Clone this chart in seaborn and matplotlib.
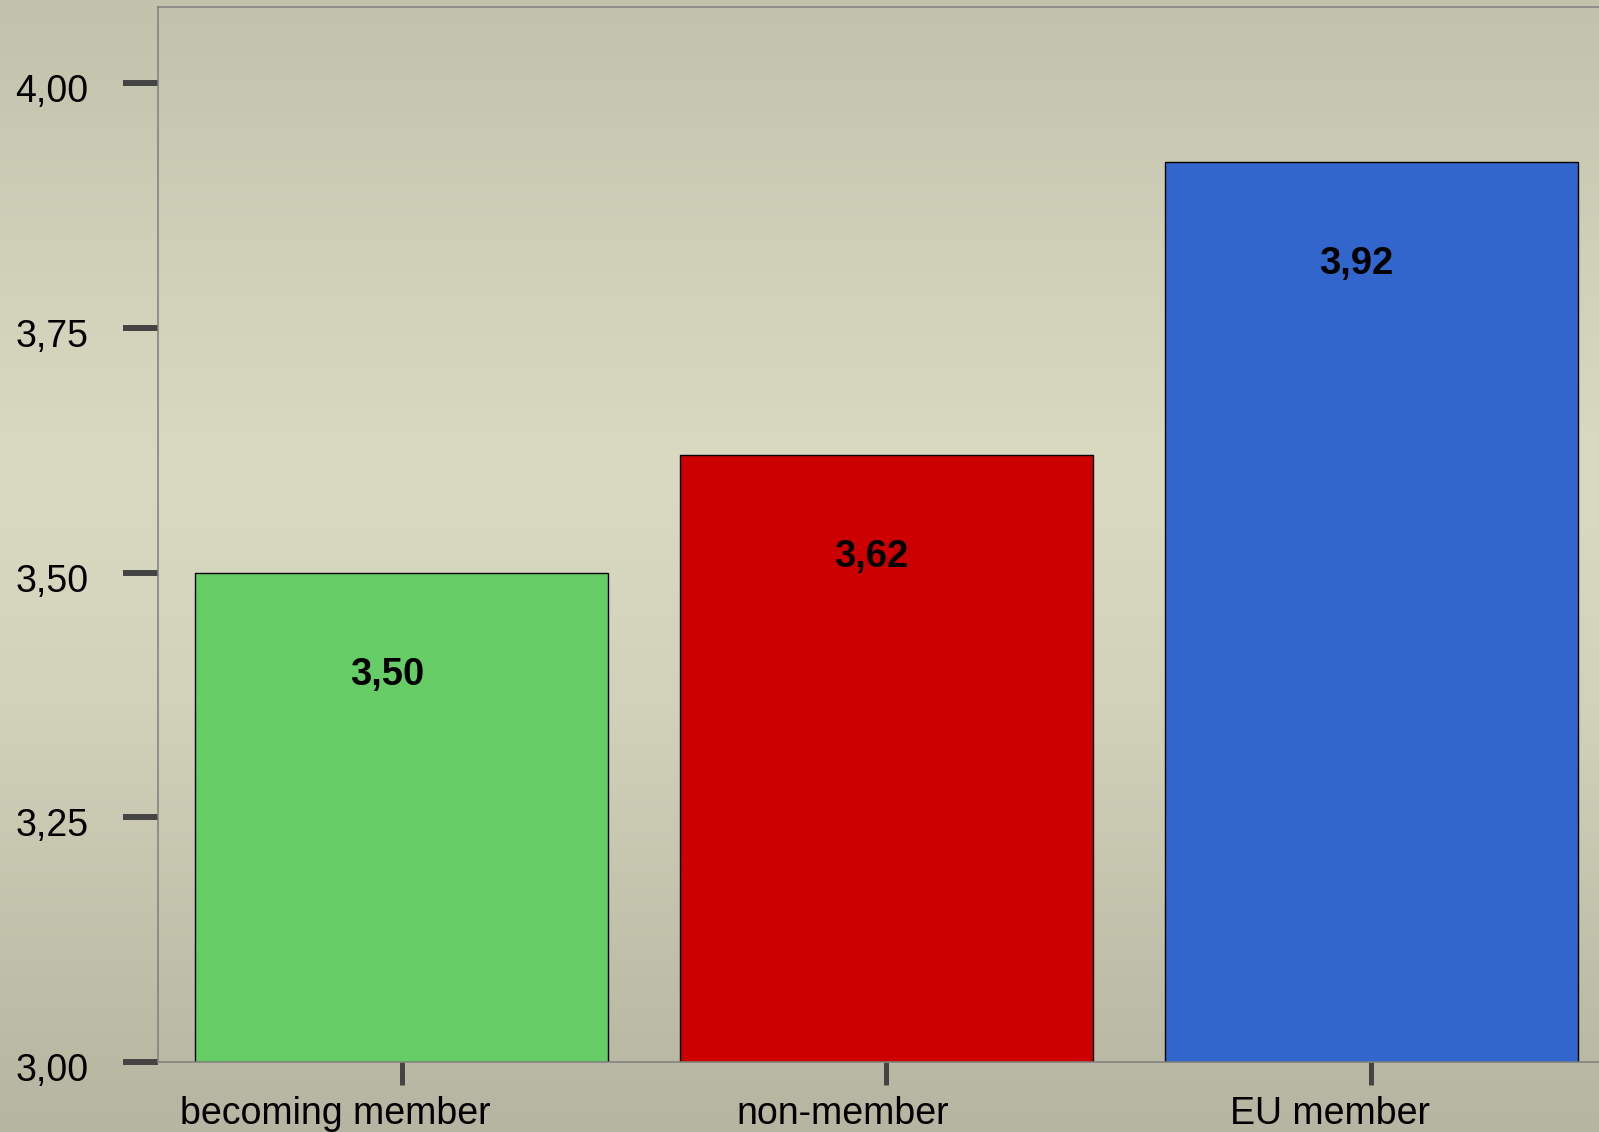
import matplotlib
matplotlib.use("Agg")
import matplotlib.pyplot as plt
import matplotlib.transforms as mtransforms
from matplotlib.colors import LinearSegmentedColormap
import numpy as np
import pandas as pd
import seaborn as sns

categories = ["becoming member", "non-member", "EU member"]
values = [3.50, 3.62, 3.92]
value_labels = ["3,50", "3,62", "3,92"]
bar_colors = ["#66CC66", "#CC0000", "#3366CC"]
y_ticks = [3.00, 3.25, 3.50, 3.75, 4.00]
y_tick_labels = ["3,00", "3,25", "3,50", "3,75", "4,00"]


def main() -> None:
    sns.set_style("white")
    plt.rcParams["font.family"] = ["Liberation Sans", "DejaVu Sans"]

    df = pd.DataFrame({"group": categories, "mean": values})

    fig = plt.figure(figsize=(15.99, 11.32), dpi=100)

    # vertical background gradient behind everything
    bg = fig.add_axes([0, 0, 1, 1], zorder=-10)
    grad = LinearSegmentedColormap.from_list(
        "bg",
        [(0.0, "#B6B5A1"), (0.15, "#C0BFA9"), (0.38, "#D2D1BA"),
         (0.58, "#DAD9C2"), (0.78, "#D0CFB8"), (1.0, "#C2C1AC")],
    )
    bg.imshow(np.linspace(0, 1, 256).reshape(-1, 1), aspect="auto", cmap=grad,
              origin="lower", extent=[0, 1, 0, 1])
    bg.set_axis_off()

    ax = fig.add_axes([158 / 1599, 70 / 1132, 1 - 158 / 1599, 1055 / 1132])
    ax.set_facecolor("none")

    sns.barplot(data=df, x="group", y="mean", hue="group", palette=bar_colors,
                legend=False, width=0.852, edgecolor="black", linewidth=1.0,
                saturation=1, ax=ax)

    ax.set_ylim(3.0, 4.078)
    ax.set_xlim(-0.503, 2.47)
    ax.set_yticks(y_ticks)
    ax.set_yticklabels(y_tick_labels)
    ax.set_xlabel("")
    ax.set_ylabel("")

    for side in ["left", "top", "bottom"]:
        ax.spines[side].set_visible(True)
        ax.spines[side].set_color("#7F7F7F")
        ax.spines[side].set_linewidth(1.1)
    ax.spines["right"].set_visible(False)

    ax.tick_params(axis="y", direction="out", length=25, width=4.3,
                   color="#444444", pad=25, labelsize=27, labelcolor="black", left=True)
    ax.tick_params(axis="x", direction="out", length=16.5, width=3.6,
                   color="#444444", pad=8, labelsize=27, labelcolor="black", bottom=True)

    # x labels sit a little left of their ticks in the original
    label_shift_px = [-67, -44, -41]
    for lbl, dx in zip(ax.get_xticklabels(), label_shift_px):
        lbl.set_transform(lbl.get_transform()
                          + mtransforms.ScaledTranslation(dx / 100, 0, fig.dpi_scale_trans))
    # y labels sit slightly below their ticks
    for lbl in ax.get_yticklabels():
        lbl.set_transform(lbl.get_transform()
                          + mtransforms.ScaledTranslation(0, -5 / 100, fig.dpi_scale_trans))

    for i, (v, txt) in enumerate(zip(values, value_labels)):
        ax.annotate(txt, xy=(i, v), xytext=(-15, -102), textcoords="offset pixels",
                    ha="center", va="center", fontsize=27.5, fontweight="bold",
                    color="black")

    fig.savefig("out.png", dpi=100)
    plt.close(fig)


if __name__ == "__main__":
    main()
